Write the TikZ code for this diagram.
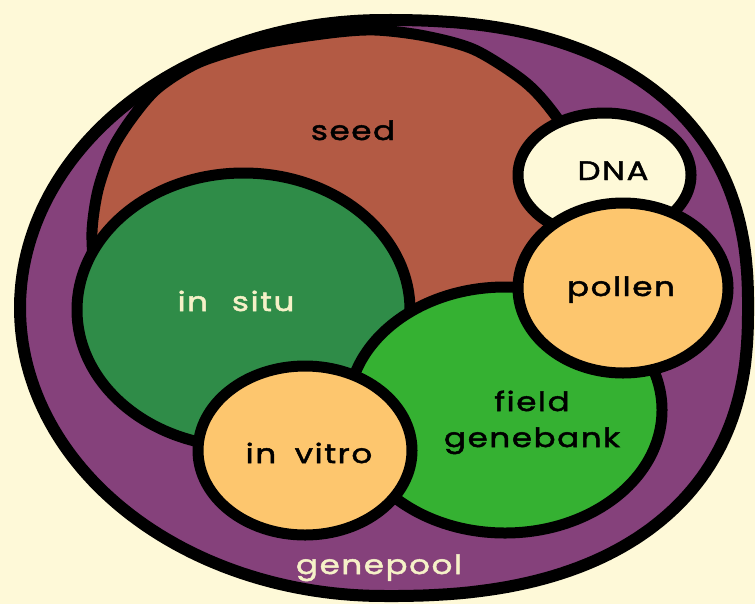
\documentclass[tikz,border=0pt]{standalone}
\usepackage{fontspec}
\setmainfont{Poppins}[FakeStretch=1.22, LetterSpace=6, FakeBold=1.8]
\definecolor{paperCream}{HTML}{FEF9D8}
\definecolor{poolPurple}{HTML}{85417B}
\definecolor{seedBrown}{HTML}{B35A44}
\definecolor{situGreen}{HTML}{2F8C48}
\definecolor{fieldGreen}{HTML}{35B132}
\definecolor{vitroOrange}{HTML}{FDC66E}
\definecolor{labelCream}{HTML}{F6F1C8}

\begin{document}
\begin{tikzpicture}[
  x=0.75pt, y=-0.75pt,
  blob/.style={draw=black, line width=8.25pt},
  lbl/.style={font=\fontsize{20}{24}\selectfont, anchor=base, inner sep=0pt},
]
  % background
  \fill[paperCream] (0,0) rectangle (755,604);
  \useasboundingbox (0,0) rectangle (755,604);
  % genepool rim: plain ellipse on the left, squarer on the right
  \def\ex{(cos(\t)>0 ? 0.8333 : 1)}
  \filldraw[blob, line width=9pt, fill=poolPurple]
    plot[domain=0.5:360.5, samples=241, variable=\t]
      ({384 + 364*sign(cos(\t))*abs(cos(\t))^\ex},
       {308 + 288*sign(sin(\t))*abs(sin(\t))^\ex}) -- cycle;
  % seed, lower half lies under the other stores
  \filldraw[blob, fill=seedBrown] plot[smooth cycle] coordinates {
    (92,232) (98,190) (112,150) (132,118) (158,88) (200,62) (260,44) (330,33)
    (375,30) (425,36) (475,50) (525,82) (555,115) (590,170) (605,240) (590,330)
    (520,420) (400,455) (260,445) (160,410) (105,320) (95,275)};
  % round stores, back to front: in situ, field, in vitro, DNA, pollen
  \foreach \cx/\cy/\rx/\ry/\col in {243.5/310/166.5/137/situGreen,
      505/410/157/123/fieldGreen, 305/450.5/107/84.5/vitroOrange,
      604.5/175/86.5/62/paperCream, 623/288/105/85/vitroOrange}
    \filldraw[blob, fill=\col] (\cx,\cy) ellipse [x radius=\rx, y radius=\ry];
  % labels
  \node[lbl] (seed) at (353,140) {seed};
  \node[lbl] (dna) at (613,180) {DNA};
  \node[lbl] (pollen) at (621,296) {pollen};
  \node[lbl, text=labelCream] (insitu) at (236,311) {in\hspace{0.9em}situ};
  \node[lbl] (invitro) at (309,463) {in\hspace{0.7em}vitro};
  \node[lbl] (field) at (532,411) {field};
  \node[lbl] (genebank) at (532,447) {genebank};
  \node[lbl, text=labelCream] (genepool) at (379,574) {genepool};
\end{tikzpicture}
\end{document}
